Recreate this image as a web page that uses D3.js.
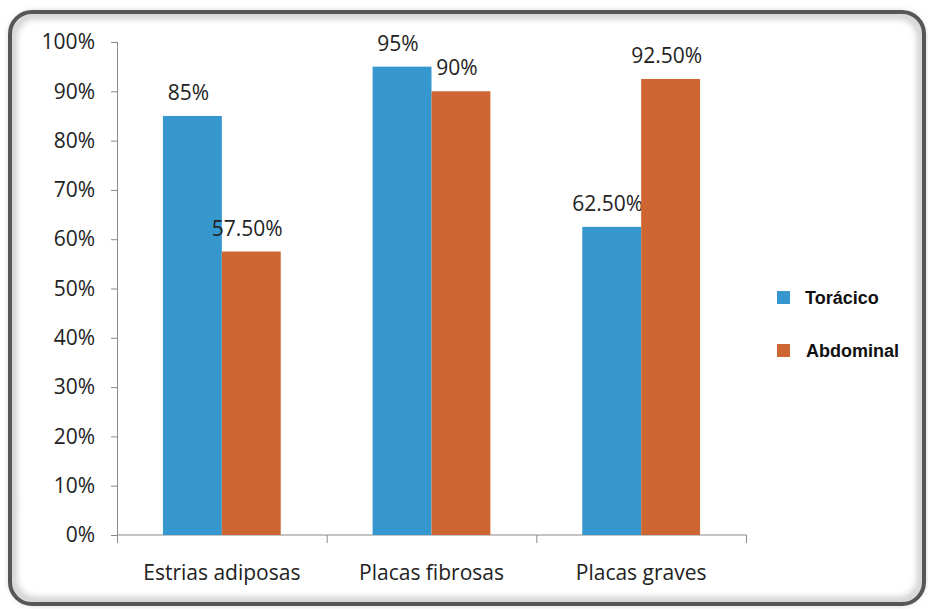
<!DOCTYPE html>
<meta charset="utf-8">
<script src="https://d3js.org/d3.v7.min.js"></script>
<style>
  body { margin: 0; background: #fff; }
  text { font-family: "Open Sans", "Noto Sans", sans-serif; }
</style>
<div id="chart"></div>
<script>
// data
var categories = ["Estrias adiposas", "Placas fibrosas", "Placas graves"];
var seriesNames = ["Torácico", "Abdominal"];
var toracico = [85, 95, 62.5];
var abdominal = [57.5, 90, 92.5];
var valueLabels = [["85%", "95%", "62.50%"], ["57.50%", "90%", "92.50%"]];
var yTicks = [0, 10, 20, 30, 40, 50, 60, 70, 80, 90, 100];
var colors = ["#3697cf", "#cd6632"];

var W = 928, H = 609;
var margin = {top: 42, left: 117, right: 182, bottom: 74};
var width = W - margin.left - margin.right,
    height = H - margin.top - margin.bottom;

var svg = d3.select("#chart").append("svg")
  .attr("width", W).attr("height", H);

// frame with soft inner shadow
var defs = svg.append("defs");
var f = defs.append("filter").attr("id", "blur").attr("x", "-5%").attr("y", "-5%").attr("width", "110%").attr("height", "110%");
f.append("feGaussianBlur").attr("stdDeviation", 3);
svg.append("rect")
  .attr("x", 13).attr("y", 15).attr("width", 908).attr("height", 586)
  .attr("rx", 22)
  .attr("fill", "none").attr("stroke", "#cfcfcf").attr("stroke-width", 8)
  .attr("filter", "url(#blur)");
svg.append("rect")
  .attr("x", 10).attr("y", 12).attr("width", 914).attr("height", 592)
  .attr("rx", 22)
  .attr("fill", "none").attr("stroke", "#575757").attr("stroke-width", 4);

var g = svg.append("g").attr("transform", "translate(" + margin.left + "," + margin.top + ")");

var x0 = d3.scaleBand().domain(categories).range([0, width]).paddingInner(0).paddingOuter(0);
var x1 = d3.scaleBand().domain(seriesNames).range([0, x0.bandwidth()]).paddingOuter(0.78).paddingInner(0);
var y = d3.scaleLinear().domain([0, 100]).range([height, 0]);

var fs = 21;

// y axis
var yAxis = g.append("g")
  .call(d3.axisLeft(y).tickValues(yTicks).tickSize(6).tickPadding(16).tickFormat(function (d) { return d + "%"; }));
yAxis.selectAll("text").attr("font-size", fs).attr("fill", "#222");
yAxis.selectAll("line, path").attr("stroke", "#8a8a8a");
yAxis.select(".domain").attr("d", "M0.5," + height + "V0");

// x axis
var xAxis = g.append("g").attr("transform", "translate(0," + height + ")")
  .call(d3.axisBottom(x0).tickSize(0).tickPadding(30));
xAxis.select(".domain").attr("stroke", "#8a8a8a").attr("d", "M0.5,0H" + (width + 0.5));
xAxis.selectAll("text").attr("font-size", fs).attr("fill", "#222");
// category boundary ticks
g.append("g").selectAll("line")
  .data(d3.range(categories.length + 1))
  .enter().append("line")
    .attr("x1", function (i) { return i * x0.step() + 0.5; })
    .attr("x2", function (i) { return i * x0.step() + 0.5; })
    .attr("y1", height).attr("y2", height + 8)
    .attr("stroke", "#8a8a8a");

// bars
var series = [toracico, abdominal];
series.forEach(function (vals, s) {
  g.append("g").selectAll("rect")
    .data(vals)
    .enter().append("rect")
      .attr("x", function (d, i) { return x0(categories[i]) + x1(seriesNames[s]); })
      .attr("y", function (d) { return y(d); })
      .attr("width", x1.bandwidth())
      .attr("height", function (d) { return height - y(d); })
      .attr("fill", colors[s]);

  g.append("g").selectAll("text")
    .data(vals)
    .enter().append("text")
      .attr("x", function (d, i) { return x0(categories[i]) + x1(seriesNames[s]) + x1.bandwidth() / 2 - 4; })
      .attr("y", function (d) { return y(d) - 16; })
      .attr("text-anchor", "middle")
      .attr("font-size", fs)
      .attr("fill", "#222")
      .text(function (d, i) { return valueLabels[s][i]; });
});

// legend
var legend = svg.append("g").attr("transform", "translate(777,291)");
seriesNames.forEach(function (name, i) {
  var row = legend.append("g").attr("transform", "translate(0," + (i * 53) + ")");
  row.append("rect").attr("width", 13).attr("height", 13).attr("fill", colors[i]);
  row.append("text")
    .attr("x", 28 + i).attr("y", 13)
    .attr("font-size", 18).attr("font-weight", "bold")
    .style("font-family", "'Liberation Sans', Arial, sans-serif")
    .attr("fill", "#111")
    .text(name);
});
</script>
